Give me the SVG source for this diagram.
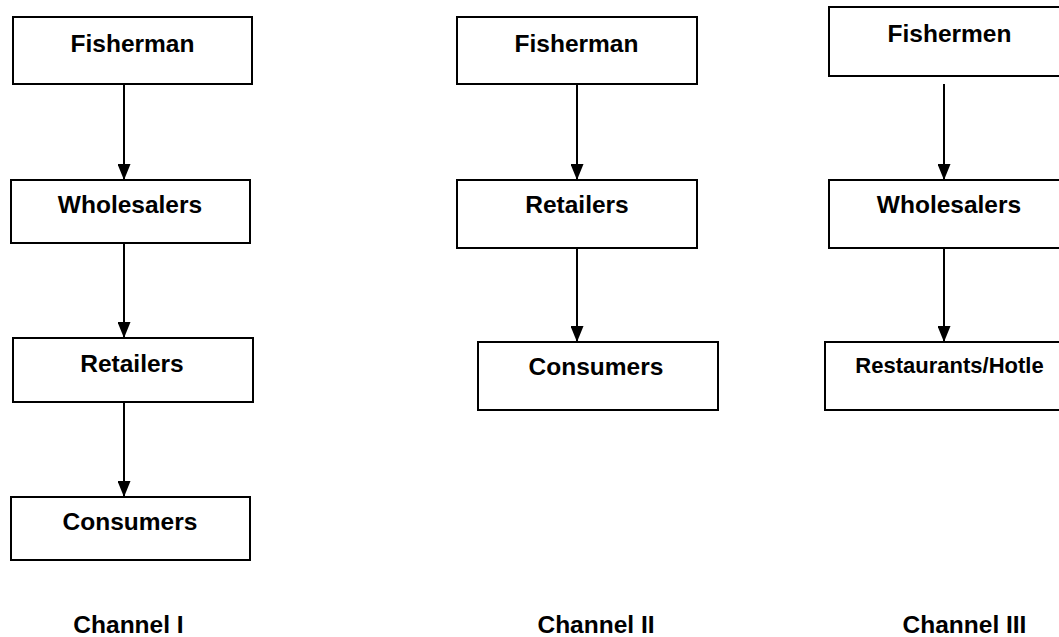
<svg xmlns="http://www.w3.org/2000/svg" width="1059" height="637" viewBox="0 0 1059 637">
<style>
.box{fill:#fff;stroke:#000;stroke-width:2}
.t{font-family:"Liberation Sans",Arial,sans-serif;font-weight:bold;font-size:24.5px;fill:#000;text-anchor:middle}
.s{font-size:22px}
.c{stroke:#000;stroke-width:2;fill:none;marker-end:url(#ah)}
</style>
<defs>
<marker id="ah" markerUnits="userSpaceOnUse" markerWidth="16" markerHeight="13" refX="15" refY="6.5" orient="auto" viewBox="0 0 16 13">
<path d="M0,0 L16,6.5 L0,13 Z" fill="#000"/>
</marker>
</defs>
<rect width="1059" height="637" fill="#fff"/>
<g id="connectors">
<line class="c" x1="124" y1="85" x2="124" y2="179"/>
<line class="c" x1="124" y1="244" x2="124" y2="337"/>
<line class="c" x1="124" y1="403" x2="124" y2="496"/>
<line class="c" x1="577" y1="85" x2="577" y2="179"/>
<line class="c" x1="577" y1="249" x2="577" y2="341"/>
<line class="c" x1="944" y1="84" x2="944" y2="179"/>
<line class="c" x1="944" y1="249" x2="944" y2="341"/>
</g>
<g id="c1-fisherman"><rect class="box" x="13" y="17" width="239" height="67"/><text class="t" x="132.5" y="51.5">Fisherman</text></g>
<g id="c1-wholesalers"><rect class="box" x="11" y="180" width="239" height="63"/><text class="t" x="130" y="213">Wholesalers</text></g>
<g id="c1-retailers"><rect class="box" x="13" y="338" width="240" height="64"/><text class="t" x="132" y="372">Retailers</text></g>
<g id="c1-consumers"><rect class="box" x="11" y="497" width="239" height="63"/><text class="t" x="130" y="530">Consumers</text></g>
<g id="c2-fisherman"><rect class="box" x="457" y="17" width="240" height="67"/><text class="t" x="576.5" y="51.5">Fisherman</text></g>
<g id="c2-retailers"><rect class="box" x="457" y="180" width="240" height="68"/><text class="t" x="577" y="213">Retailers</text></g>
<g id="c2-consumers"><rect class="box" x="478" y="342" width="240" height="68"/><text class="t" x="596" y="375">Consumers</text></g>
<g id="c3-fishermen"><rect class="box" x="829" y="7" width="250" height="69"/><text class="t" x="949.5" y="41.5">Fishermen</text></g>
<g id="c3-wholesalers"><rect class="box" x="829" y="180" width="250" height="68"/><text class="t" x="949" y="213">Wholesalers</text></g>
<g id="c3-restaurants"><rect class="box" x="825" y="342" width="254" height="68"/><text class="t s" x="949.5" y="373">Restaurants/Hotle</text></g>
<g id="labels">
<text class="t" x="128.5" y="633">Channel I</text>
<text class="t" x="596" y="633">Channel II</text>
<text class="t" x="964.5" y="633">Channel III</text>
</g>
</svg>
